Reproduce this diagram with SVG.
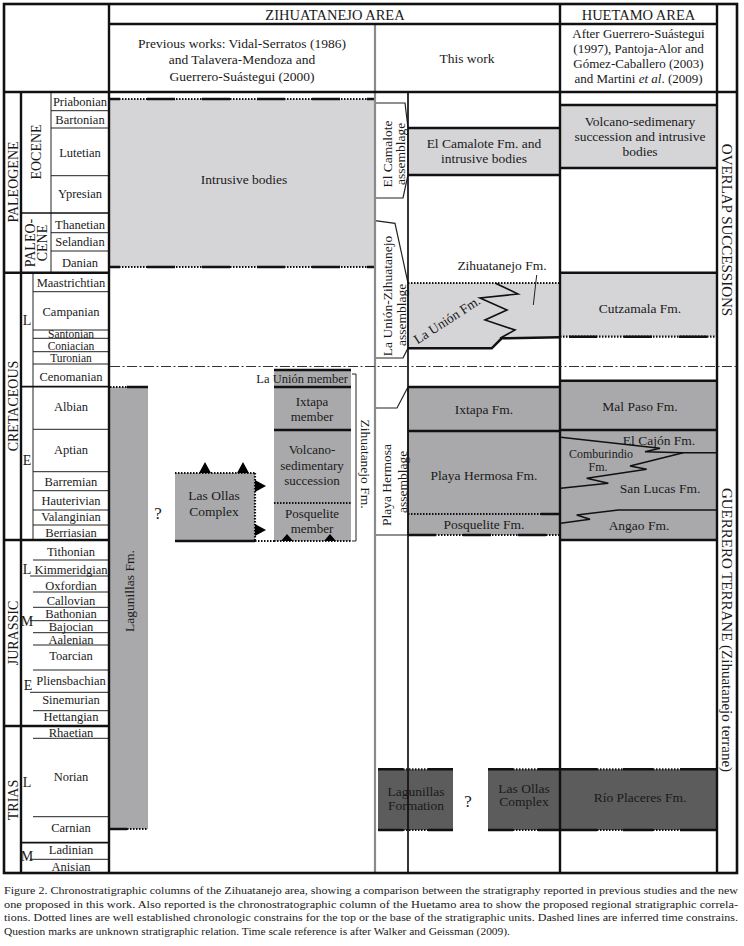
<svg xmlns="http://www.w3.org/2000/svg" width="744" height="946" viewBox="0 0 744 946">
<style>
text{font-family:"Liberation Serif","Times New Roman",serif;fill:#1a1a1a}
.st{font-size:12.5px;text-anchor:middle}
.st2{font-size:11.5px;text-anchor:middle}
.ep{font-size:14px;text-anchor:middle}
.hd{font-size:14.5px;text-anchor:middle}
.h2{font-size:13.5px;text-anchor:middle}
.h3{font-size:13px;text-anchor:middle}
.lb{font-size:13.5px;text-anchor:middle}
.lm{font-size:13px;text-anchor:middle}
.sm{font-size:12px;text-anchor:middle}
.rt{font-size:15px;text-anchor:middle}
.q{font-size:17px;text-anchor:middle}
.cap{font-size:11px}
.thin{stroke:#222;stroke-width:1;fill:none}
.med{stroke:#111;stroke-width:1.7;fill:none}
.thick{stroke:#111;stroke-width:2.4;fill:none}
.gry{stroke:#8a8a8a;stroke-width:2.2;fill:none}
.sol{stroke:#111;stroke-width:2.5;fill:none}
.dot{stroke:#111;stroke-width:2.2;stroke-dasharray:1.5 1.5;fill:none}
.mix{stroke:#111;stroke-width:2.5;stroke-dasharray:28 27;fill:none}
.zz{stroke:#111;stroke-width:1.6;fill:none;stroke-linejoin:miter}
.dd{stroke:#333;stroke-width:1.1;stroke-dasharray:10 2.5 2 2.5;fill:none}
.lg{fill:#d5d5d7}
.mg{fill:#a9a9ab}
.dg{fill:#5c5c5c}
.box{fill:#fff;stroke:#222;stroke-width:1.2}
.tri{fill:#000}
</style>
<rect width="744" height="946" fill="#fff"/>

<!-- unit fills -->
<g id="intrusive-bodies">
<rect class="lg" x="110" y="99" width="264" height="168"/>
<line class="dot" x1="110" y1="99" x2="374" y2="99"/><line class="mix" x1="110" y1="99" x2="374" y2="99" stroke-dashoffset="18"/>
<line class="dot" x1="110" y1="267" x2="374" y2="267"/><line class="mix" x1="110" y1="267" x2="374" y2="267" stroke-dashoffset="18"/>
<text class="lb" x="244" y="184">Intrusive bodies</text>
</g>

<g id="lagunillas-fm">
<rect class="mg" x="110" y="387" width="38" height="442"/>
<line class="dot" x1="110" y1="387" x2="127" y2="387"/><line class="sol" x1="127" y1="387" x2="148" y2="387"/>
<line class="sol" x1="110" y1="829" x2="127" y2="829"/><line class="dot" x1="127" y1="829" x2="148" y2="829"/>
<text class="lb" transform="translate(129,591) rotate(-90)" y="4.7">Lagunillas Fm.</text>
</g>

<g id="question-1"><text class="q" x="158" y="519">?</text></g>

<g id="las-ollas-prev">
<rect class="mg" x="175" y="473" width="80" height="68"/>
<line class="dot" x1="175" y1="473" x2="255" y2="473"/>
<line class="dot" x1="255" y1="473" x2="255" y2="541"/>
<line class="sol" x1="175" y1="541" x2="255" y2="541"/>
<line class="dot" x1="255" y1="541" x2="274" y2="541"/>
<path class="tri" d="M199,473 L205,462 L211,473 Z M237,473 L243,462 L249,473 Z M255,480 L266,486 L255,492 Z M255,524 L266,530 L255,536 Z"/>
<text class="lb" x="214" y="500">Las Ollas</text>
<text class="lb" x="214" y="516">Complex</text>
</g>

<g id="zihuatanejo-fm-prev">
<rect class="mg" x="274" y="370" width="77" height="171"/>
<line class="sol" x1="274" y1="370" x2="351" y2="370"/>
<line class="sol" x1="274" y1="387" x2="351" y2="387"/>
<line class="sol" x1="274" y1="430" x2="351" y2="430"/>
<line class="dot" x1="274" y1="503" x2="351" y2="503"/>
<line class="dot" x1="274" y1="541" x2="351" y2="541"/>
<path class="tri" d="M281,541 L287,534 L293,541 Z M324,541 L330,534 L336,541 Z"/>
<text x="348" y="383" style="font-size:12.5px;text-anchor:end">La Unión member</text>
<text class="lm" x="312" y="406">Ixtapa</text>
<text class="lm" x="312" y="420.5">member</text>
<text class="lm" x="312" y="454">Volcano-</text>
<text class="lm" x="312" y="469.5">sedimentary</text>
<text class="lm" x="312" y="485">succession</text>
<text class="lm" x="312" y="518">Posquelite</text>
<text class="lm" x="312" y="533">member</text>
<text class="lb" transform="translate(366,464) rotate(90)" y="4.7">Zihuatanejo Fm.</text>
</g>

<g id="el-camalote-fm">
<rect class="lg" x="408" y="128" width="152" height="47"/>
<line class="sol" x1="408" y1="128" x2="560" y2="128"/>
<line class="sol" x1="408" y1="175" x2="560" y2="175"/>
<text class="lb" x="484" y="147.5">El Camalote Fm. and</text>
<text class="lb" x="484" y="162.5">intrusive bodies</text>
</g>

<g id="la-union-zihuatanejo-fm">
<polygon class="lg" points="408,283 560,283 560,337.3 501.7,338.3 491.7,348.3 408,348.3"/>
<line class="dot" x1="408" y1="283" x2="560" y2="283"/>
<polyline class="sol" points="408,348.3 491.7,348.3 501.7,338.3 560,337.3"/>
<text class="lb" transform="translate(447,320) rotate(-33)" y="4.5">La Unión Fm.</text>
<text class="lb" x="502" y="270">Zihuatanejo Fm.</text>
</g>

<g id="ixtapa-fm">
<rect class="mg" x="408" y="387" width="152" height="44"/>
<line class="sol" x1="408" y1="387" x2="560" y2="387"/>
<text class="lb" x="484" y="413.5">Ixtapa Fm.</text>
</g>
<g id="playa-hermosa-fm">
<rect class="mg" x="408" y="431" width="152" height="83"/>
<line class="sol" x1="408" y1="431" x2="560" y2="431"/>
<text class="lb" x="484" y="479.5">Playa Hermosa Fm.</text>
</g>
<g id="posquelite-fm">
<rect class="mg" x="408" y="514" width="152" height="21"/>
<line class="dot" x1="408" y1="514" x2="541" y2="514"/><line class="sol" x1="541" y1="514" x2="560" y2="514"/>
<line class="dot" x1="408" y1="535" x2="560" y2="535"/><line class="mix" x1="408" y1="535" x2="560" y2="535"/>
<text class="lb" x="484" y="528.5">Posquelite Fm.</text>
</g>

<g id="volcano-sed-huetamo">
<rect class="lg" x="560" y="105" width="157" height="63"/>
<line class="sol" x1="560" y1="105" x2="717" y2="105"/>
<line class="sol" x1="560" y1="168" x2="717" y2="168"/>
<text class="lb" x="640" y="125.5">Volcano-sedimenary</text>
<text class="lb" x="640" y="141">succession and intrusive</text>
<text class="lb" x="640" y="155.5">bodies</text>
</g>
<g id="cutzamala-fm">
<rect class="lg" x="560" y="272.7" width="157" height="64"/>
<line class="sol" x1="560" y1="272.7" x2="717" y2="272.7"/>
<line class="dot" x1="560" y1="336.7" x2="717" y2="336.7"/><line class="mix" x1="560" y1="336.7" x2="717" y2="336.7" stroke-dashoffset="-9"/>
<text class="lb" x="640" y="312.5">Cutzamala Fm.</text>
</g>
<g id="mal-paso-fm">
<rect class="mg" x="560" y="380.7" width="157" height="49.3"/>
<line class="sol" x1="560" y1="380.7" x2="717" y2="380.7"/>
<text class="lb" x="640" y="411">Mal Paso Fm.</text>
</g>
<g id="lower-cretaceous-huetamo">
<rect class="mg" x="560" y="430" width="157" height="110"/>
<line class="sol" x1="560" y1="430" x2="717" y2="430"/>
<line class="sol" x1="560" y1="540" x2="717" y2="540"/>
<text class="lb" x="659" y="444.5">El Cajón Fm.</text>
<text class="sm" x="601" y="458">Comburindio</text>
<text class="sm" x="598" y="470.7">Fm.</text>
<text class="lb" x="660" y="493">San Lucas Fm.</text>
<text class="lb" x="639" y="530">Angao Fm.</text>
</g>

<g id="lagunillas-formation">
<rect class="dg" x="378" y="769.3" width="75" height="60.7"/>
<path class="sol" d="M378,769.3H403M428,769.3H453M378,830H403M428,830H453"/>
<path class="dot" d="M403,769.3H428M403,830H428"/>
<text class="lb" x="416" y="795.5">Lagunillas</text>
<text class="lb" x="416" y="809.5">Formation</text>
</g>
<g id="question-2"><text class="q" x="468" y="807">?</text></g>
<g id="las-ollas-complex">
<rect class="dg" x="488" y="769.3" width="72.7" height="60.7"/>
<path class="sol" d="M488,769.3H513M538,769.3H560.7M488,830H513M538,830H560.7"/>
<path class="dot" d="M513,769.3H538M513,830H538"/>
<text class="lb" x="524" y="792.5">Las Ollas</text>
<text class="lb" x="524" y="806">Complex</text>
</g>
<g id="rio-placeres-fm">
<rect class="dg" x="560.7" y="769.3" width="157.3" height="60.7"/>
<path class="sol" d="M560.7,769.3H597M623,769.3H653M680,769.3H718M560.7,830H597M623,830H653M680,830H718"/>
<path class="dot" d="M597,769.3H623M653,769.3H680M597,830H623M653,830H680"/>
<text class="lb" x="640" y="801.5">Río Placeres Fm.</text>
</g>

<!-- assemblage boxes -->
<g id="el-camalote-assemblage">
<polygon class="box" points="375,103 405,103 408,128 408,175 403,198 375,198"/>
<text class="lb" transform="translate(387,154) rotate(-90)" y="4.7">El Camalote</text>
<text class="lb" transform="translate(400,154) rotate(-90)" y="4.7">assemblage</text>
</g>
<g id="la-union-zihuatanejo-assemblage">
<polygon class="box" points="375,220.7 395,223.3 408,283 408,348 403,358 375,358"/>
<text class="lb" transform="translate(387,296) rotate(-90)" y="4.7">La Unión-Zihuatanejo</text>
<text class="lb" transform="translate(401,315) rotate(-90)" y="4.7">assemblage</text>
</g>
<g id="playa-hermosa-assemblage">
<polygon class="box" points="375,408 397,408 408,387 408,535 375,535"/>
<text class="lb" transform="translate(386,485) rotate(-90)" y="4.7">Playa Hermosa</text>
<text class="lb" transform="translate(402,482) rotate(-90)" y="4.7">assemblage</text>
</g>

<!-- grid / time scale -->
<g id="grid">
<path class="thin" d="M51,110.7H109M51,128H109M51,175.7H109M51,232.7H109M51,251H109
M33,291.7H109M33,330H109M33,338.3H109M33,351.7H109M33,364H109M33,429.3H109M33,471.7H109M33,490.7H109M33,510H109M33,525H109
M33,560H109M30,576H109M33,592H109M33,607.3H109M30,620.7H109M33,632.7H109M33,645H109M33,670H109M30,692.3H109M33,710.7H109
M33,738.3H109M33,816.7H109M30,859.3H109M51,92V273M33,273V540"/>
<path class="med" d="M21,213H109M21,386.7H109M21,842.7H109"/>
<path class="thick" d="M4,272.7H109M4,540H109M4,726H109M21,92V873"/>
<line class="gry" x1="375" y1="24" x2="375" y2="873"/>
<line class="med" x1="408" y1="92" x2="408" y2="873"/>
<path class="thick" d="M109,4V873M560,4V873M717,4V873M109,24H717M4,92H737"/>
<rect x="4" y="4" width="733" height="869" fill="none" stroke="#111" stroke-width="2.6"/>
</g>

<!-- connectors -->
<g id="connectors">
<line class="dd" x1="110" y1="366.5" x2="737" y2="366.5"/>
<path class="thin" d="M352,374H356V541H352" stroke-width="1.2"/>
<polyline class="zz" points="495,283 518,294 480,298 507,310 485,320 515,330 500,338.3"/>
<line class="thin" x1="536.7" y1="275" x2="533.3" y2="305"/>
<polyline class="zz" points="560.7,437.3 660,448.3 645,451.7 683.3,452.7 717,452.7"/>
<polyline class="zz" points="683.3,452.7 630,466 646.7,469.3 586.7,478.3 608.3,483.3 560.7,488.3"/>
<polyline class="zz" points="560.7,523.3 590,519.3 576.7,515 618.3,510 717,510"/>
</g>

<!-- time scale labels -->
<g id="periods">
<text class="ep" transform="translate(13,182) rotate(-90)" y="5">PALEOGENE</text>
<text class="ep" transform="translate(13,406) rotate(-90)" y="5">CRETACEOUS</text>
<text class="ep" transform="translate(13,633) rotate(-90)" y="5">JURASSIC</text>
<text class="ep" transform="translate(13,800) rotate(-90)" y="5">TRIAS</text>
</g>
<g id="epochs">
<text class="ep" transform="translate(36,152) rotate(-90)" y="5">EOCENE</text>
<text class="ep" transform="translate(30,243) rotate(-90)" y="5">PALEO-</text>
<text class="ep" transform="translate(42,243) rotate(-90)" y="5">CENE</text>
<text class="ep" x="27" y="325">L</text>
<text class="ep" x="27" y="465">E</text>
<text class="ep" x="27" y="574">L</text>
<text class="ep" x="27" y="626">M</text>
<text class="ep" x="28" y="690">E</text>
<text class="ep" x="27" y="787">L</text>
<text class="ep" x="27" y="861">M</text>
</g>
<g id="stages">
<text class="st" x="80" y="106">Priabonian</text>
<text class="st" x="80" y="124">Bartonian</text>
<text class="st" x="80" y="157">Lutetian</text>
<text class="st" x="80" y="198">Ypresian</text>
<text class="st" x="80" y="229">Thanetian</text>
<text class="st" x="80" y="246">Selandian</text>
<text class="st" x="80" y="267">Danian</text>
<text class="st" x="71" y="287">Maastrichtian</text>
<text class="st" x="71" y="316">Campanian</text>
<text class="st2" x="71" y="337.5">Santonian</text>
<text class="st2" x="71" y="349.5">Coniacian</text>
<text class="st2" x="71" y="362">Turonian</text>
<text class="st" x="71" y="381">Cenomanian</text>
<text class="st" x="71" y="411">Albian</text>
<text class="st" x="71" y="454">Aptian</text>
<text class="st" x="71" y="486">Barremian</text>
<text class="st" x="71" y="505">Hauterivian</text>
<text class="st" x="71" y="521">Valanginian</text>
<text class="st" x="71" y="537">Berriasian</text>
<text class="st" x="71" y="556">Tithonian</text>
<text class="st" x="71" y="574">Kimmeridgian</text>
<text class="st" x="71" y="590">Oxfordian</text>
<text class="st" x="71" y="604.5">Callovian</text>
<text class="st" x="71" y="618">Bathonian</text>
<text class="st" x="71" y="630.5">Bajocian</text>
<text class="st" x="71" y="644">Aalenian</text>
<text class="st" x="71" y="660">Toarcian</text>
<text class="st" x="71" y="685">Pliensbachian</text>
<text class="st" x="71" y="704">Sinemurian</text>
<text class="st" x="71" y="721">Hettangian</text>
<text class="st" x="71" y="737">Rhaetian</text>
<text class="st" x="71" y="781">Norian</text>
<text class="st" x="71" y="832">Carnian</text>
<text class="st" x="71" y="854">Ladinian</text>
<text class="st" x="71" y="871">Anisian</text>
</g>

<!-- headers -->
<g id="headers">
<text class="hd" x="335" y="20">ZIHUATANEJO AREA</text>
<text class="hd" x="638.5" y="20">HUETAMO AREA</text>
<text class="h2" x="242" y="47.5">Previous works: Vidal-Serratos (1986)</text>
<text class="h2" x="242" y="64">and Talavera-Mendoza and</text>
<text class="h2" x="242" y="80.5">Guerrero-Suástegui (2000)</text>
<text class="h2" x="467" y="62.5">This work</text>
<text class="h3" x="638.5" y="37.5">After Guerrero-Suástegui</text>
<text class="h3" x="638.5" y="52.5">(1997), Pantoja-Alor and</text>
<text class="h3" x="638.5" y="67.5">Gómez-Caballero (2003)</text>
<text class="h3" x="638.5" y="82.5">and Martini <tspan font-style="italic">et al</tspan>. (2009)</text>
</g>

<g id="side-labels">
<text class="rt" transform="translate(727,230) rotate(90)" y="5">OVERLAP  SUCCESSIONS</text>
<text class="rt" transform="translate(727,630) rotate(90)" y="5">GUERRERO TERRANE (Zihuatanejo terrane)</text>
</g>

<g id="caption">
<text class="cap" x="4" y="894" textLength="734" lengthAdjust="spacingAndGlyphs">Figure 2. Chronostratigraphic columns of the Zihuatanejo area, showing a comparison between the stratigraphy reported in previous studies and the new</text>
<text class="cap" x="4" y="907.5" textLength="734" lengthAdjust="spacingAndGlyphs">one proposed in this work. Also reported is the chronostratographic column of the Huetamo area to show the proposed regional stratigraphic correla-</text>
<text class="cap" x="4" y="921" textLength="734" lengthAdjust="spacingAndGlyphs">tions. Dotted lines are well established chronologic constrains for the top or the base of the stratigraphic units. Dashed lines are inferred time constrains.</text>
<text class="cap" x="4" y="934.5" textLength="506" lengthAdjust="spacingAndGlyphs">Question marks are unknown stratigraphic relation. Time scale reference is after Walker and Geissman (2009).</text>
</g>
</svg>
